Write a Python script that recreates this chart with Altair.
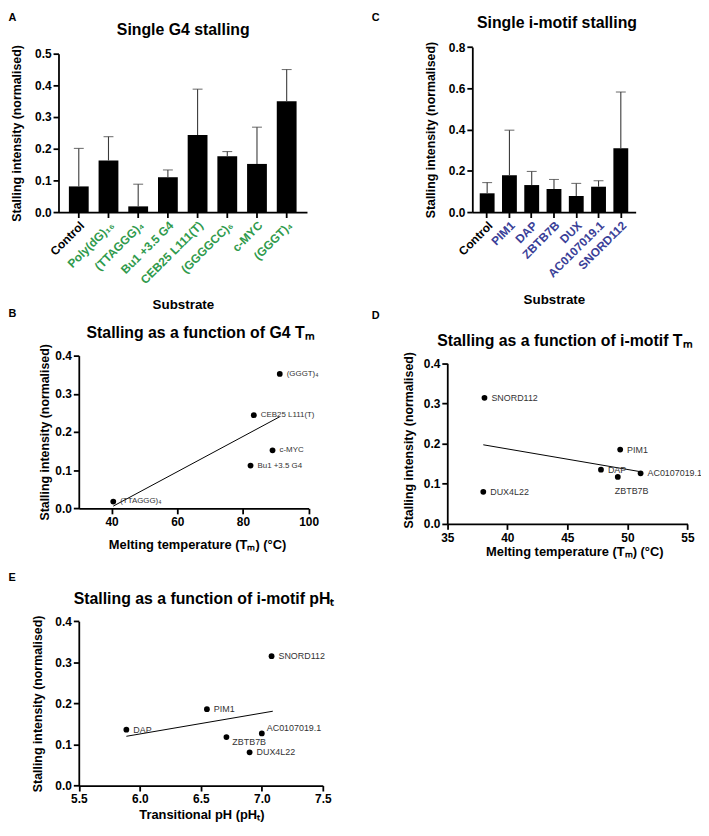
import altair as alt
import pandas as pd

FONT = "Liberation Sans"
GREEN = "#2f9a4c"
BLUE = "#3b3f98"
W, H = 700, 820

# ---------- data ----------
a_cats = ["Control", "Poly(dG)₁₆", "(TTAGGG)₄", "Bu1 +3.5 G4", "CEB25 L111(T)", "(GGGGCC)₆", "c-MYC", "(GGGT)₄"]
a_mean = [0.081, 0.163, 0.018, 0.110, 0.243, 0.176, 0.152, 0.350]
a_upper = [0.201, 0.238, 0.088, 0.133, 0.388, 0.191, 0.268, 0.450]

c_cats = ["Control", "PIM1", "DAP", "ZBTB7B", "DUX", "AC0107019.1", "SNORD112"]
c_mean = [0.091, 0.179, 0.131, 0.112, 0.078, 0.123, 0.309]
c_upper = [0.143, 0.397, 0.197, 0.158, 0.139, 0.152, 0.582]

b_names = ["(TTAGGG)₄", "Bu1 +3.5 G4", "c-MYC", "CEB25 L111(T)", "(GGGT)₄"]
b_tm = [40.5, 82.3, 89.0, 83.3, 91.2]
b_stall = [0.018, 0.112, 0.152, 0.244, 0.352]
b_fit_x = [40.5, 91.2]
b_fit_y = [0.006, 0.240]

d_names = ["SNORD112", "DUX4L22", "PIM1", "DAP", "ZBTB7B", "AC0107019.1"]
d_tm = [38.1, 38.0, 49.4, 47.8, 49.2, 51.1]
d_stall = [0.314, 0.080, 0.185, 0.135, 0.117, 0.126]
d_fit_x = [38.0, 51.1]
d_fit_y = [0.197, 0.130]

e_names = ["DAP", "PIM1", "ZBTB7B", "DUX4L22", "AC0107019.1", "SNORD112"]
e_ph = [5.89, 6.55, 6.71, 6.90, 7.00, 7.08]
e_stall = [0.136, 0.186, 0.118, 0.081, 0.127, 0.315]
e_fit_x = [5.89, 7.09]
e_fit_y = [0.120, 0.181]

YTITLE = "Stalling intensity (normalised)"


def title_axis(text, tx, ty):
    # top axis carrying only the panel title
    return alt.Axis(orient="top", offset=0, domain=False, ticks=False, labels=False, grid=False,
                    title=text, titleX=tx, titleY=ty, titleAngle=0, titleAlign="center",
                    titleBaseline="alphabetic", titleFontSize=16, titleFont=FONT,
                    titleFontWeight="bold", titleColor="black")


def letter_axis(text, tx, ty):
    # left axis carrying only the panel letter
    return alt.Axis(orient="left", offset=0, domain=False, ticks=False, labels=False, grid=False,
                    title=text, titleX=tx, titleY=ty, titleAngle=0, titleAlign="left",
                    titleBaseline="alphabetic", titleFontSize=11, titleFont=FONT,
                    titleFontWeight="bold", titleColor="black")


def y_axis(x0, ttx, tty, vals):
    return alt.Axis(orient="left", offset=-x0, values=vals, format=".1f", labelPadding=2,
                    title=YTITLE, titleX=ttx, titleY=tty, titleAngle=270, titleAlign="center",
                    titleBaseline="middle", titleFontSize=12.5)


def bar_layers(cats, mean, upper, color, xr, yr, ymax, yvals, pouter,
               title, title_xy, letter, letter_xy, xt_xy, yt_xy):
    df = pd.DataFrame({"sub": cats, "mean": mean, "upper": upper})

    def xs():
        return alt.Scale(domain=cats, range=xr, paddingInner=0.333, paddingOuter=pouter)

    def ys():
        return alt.Scale(domain=[0, ymax], range=yr, nice=False, zero=False)

    xax = alt.Axis(orient="bottom", offset=yr[0] - H, labelAngle=-45, labelFontSize=12, labelPadding=2,
                   labelColor={"condition": {"test": "datum.value === 'Control'", "value": "black"},
                               "value": color},
                   title="Substrate", titleX=xt_xy[0], titleY=xt_xy[1], titleAngle=0,
                   titleAlign="center", titleBaseline="alphabetic", titleFontSize=13.5)
    bars = alt.Chart(df).mark_bar(color="black").encode(
        x=alt.X("sub:N", scale=xs(), axis=xax),
        y=alt.Y("mean:Q", scale=ys(), axis=y_axis(xr[0], yt_xy[0], yt_xy[1], yvals)))
    err = alt.Chart(df).mark_rule(color="#3a3a3a", strokeWidth=1.1).encode(
        x=alt.X("sub:N", scale=xs(), axis=None),
        y=alt.Y("mean:Q", scale=ys(), axis=None), y2="upper:Q")
    caps = alt.Chart(df).mark_tick(color="#3a3a3a", thickness=1.1, size=10).encode(
        x=alt.X("sub:N", scale=xs(), axis=title_axis(title, *title_xy)),
        y=alt.Y("upper:Q", scale=ys(), axis=letter_axis(letter, *letter_xy)))
    return [bars, err, caps]


def scatter_layers(names, xv, yv, fx, fy, xdom, xr, yr, xvals, xfmt, xtitle, xt_xy, yt_xy,
                   title, title_xy, letter, letter_xy, lsize, special):
    df = pd.DataFrame({"name": names, "x": xv, "y": yv})
    fit = pd.DataFrame({"x": fx, "y": fy})

    def xs():
        return alt.Scale(domain=xdom, range=xr, nice=False, zero=False)

    def ys():
        return alt.Scale(domain=[0, 0.4], range=yr, nice=False, zero=False)

    xax = alt.Axis(orient="bottom", offset=yr[0] - H, values=xvals, format=xfmt, labelFlush=False,
                   title=xtitle, titleX=xt_xy[0], titleY=xt_xy[1], titleAngle=0,
                   titleAlign="center", titleBaseline="alphabetic", titleFontSize=13)
    line = alt.Chart(fit).mark_line(color="black", strokeWidth=1).encode(
        x=alt.X("x:Q", scale=xs(), axis=xax),
        y=alt.Y("y:Q", scale=ys(), axis=y_axis(xr[0], yt_xy[0], yt_xy[1], [0, 0.1, 0.2, 0.3, 0.4])))
    pts = alt.Chart(df).mark_circle(size=34, color="black", opacity=1).encode(
        x=alt.X("x:Q", scale=xs(), axis=title_axis(title, *title_xy)),
        y=alt.Y("y:Q", scale=ys(), axis=letter_axis(letter, *letter_xy)))
    layers = [line, pts]
    special_names = [s[0] for s in special]
    base = alt.Chart(df)
    if special_names:
        base_normal = base.transform_filter({"not": {"field": "name", "oneOf": special_names}})
    else:
        base_normal = base
    layers.append(base_normal.mark_text(align="left", baseline="middle", dx=7, fontSize=lsize,
                                        font=FONT, color="#333333").encode(
        x=alt.X("x:Q", scale=xs(), axis=None), y=alt.Y("y:Q", scale=ys(), axis=None), text="name:N"))
    for nm, al, ddx, ddy in special:
        layers.append(base.transform_filter(alt.FieldEqualPredicate(field="name", equal=nm)).mark_text(
            align=al, baseline="middle", dx=ddx, dy=ddy, fontSize=lsize, font=FONT, color="#333333").encode(
            x=alt.X("x:Q", scale=xs(), axis=None), y=alt.Y("y:Q", scale=ys(), axis=None), text="name:N"))
    return layers


layers = []
layers += bar_layers(a_cats, a_mean, a_upper, GREEN, [51, 302], [202, 42], 0.5,
                     [0, 0.1, 0.2, 0.3, 0.4, 0.5], 0.35,
                     "Single G4 stalling", (176.5, 22.7), "A", (0, 8), (176.7, 97), (-42, 122))
layers += bar_layers(c_cats, c_mean, c_upper, BLUE, [469, 634], [202, 35.3], 0.8,
                     [0, 0.2, 0.4, 0.6, 0.8], 0.333,
                     "Single i-motif stalling", (554, 16), "C", (367, 8), (551.4, 92.5), (-42, 118.7))
layers += scatter_layers(b_names, b_tm, b_stall, b_fit_x, b_fit_y, [30, 100], [71.5, 303.7], [501.3, 347],
                         [40, 60, 80, 100], "d", "Melting temperature (Tₘ) (°C)", (191, 40.7), (-34.5, 424),
                         "Stalling as a function of G4 Tₘ", (194, 328.7), "B", (0, 307), 8, [])
layers += scatter_layers(d_names, d_tm, d_stall, d_fit_x, d_fit_y, [35, 55], [443.7, 686.3], [517, 354.7],
                         [35, 40, 45, 50, 55], "d", "Melting temperature (Tₘ) (°C)", (572, 32), (-38.7, 432),
                         "Stalling as a function of i-motif Tₘ", (562, 337), "D", (367, 310), 9,
                         [("ZBTB7B", "left", -3, 14)])
layers += scatter_layers(e_names, e_ph, e_stall, e_fit_x, e_fit_y, [5.5, 7.5], [71.5, 318], [781.3, 615.3],
                         [5.5, 6.0, 6.5, 7.0, 7.5], ".1f", "Transitional pH (pHₜ)", (195.3, 33.7), (-41.2, 698.3),
                         "Stalling as a function of i-motif pHₜ", (197.5, 597.7), "E", (0, 574), 9,
                         [("ZBTB7B", "left", 6, 5), ("AC0107019.1", "left", 5, -5)])

chart = alt.layer(*layers).resolve_scale(x="independent", y="independent").properties(
    width=W, height=H, padding=0, autosize=alt.AutoSizeParams(type="none")
).configure_view(stroke=None).configure_axis(
    grid=False, domainColor="black", domainWidth=1.8, tickColor="black", tickWidth=1.8, tickSize=5.5,
    labelFont=FONT, labelFontWeight="bold", labelFontSize=12, labelColor="black", labelPadding=3,
    titleFont=FONT, titleFontWeight="bold", titleColor="black",
)

chart.save("out.html", embed_options={"renderer": "svg", "actions": False})
